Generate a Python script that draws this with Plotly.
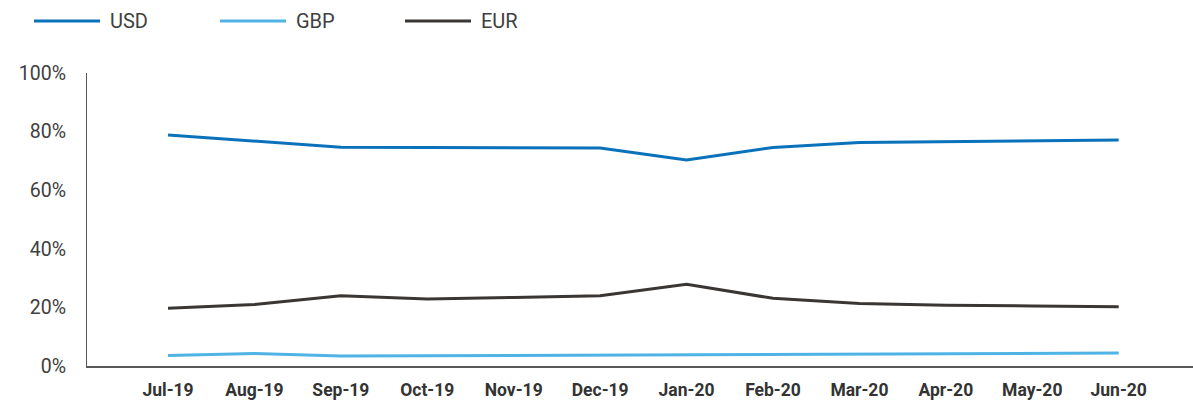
import plotly.graph_objects as go

months = ["Jul-19", "Aug-19", "Sep-19", "Oct-19", "Nov-19", "Dec-19",
          "Jan-20", "Feb-20", "Mar-20", "Apr-20", "May-20", "Jun-20"]
usd = [78.8, 76.8, 74.7, 74.6, 74.5, 74.4, 70.3, 74.6, 76.3, 76.5, 76.8, 77.1]
gbp = [3.6, 4.3, 3.4, 3.5, 3.7, 3.8, 4.0, 4.1, 4.2, 4.3, 4.4, 4.4]
eur = [19.7, 21.0, 24.0, 22.9, 23.4, 24.0, 27.9, 23.1, 21.3, 20.7, 20.5, 20.2]
y_ticks = [0, 20, 40, 60, 80, 100]
y_tick_text = ["0%", "20%", "40%", "60%", "80%", "100%"]

series = [
    ("USD", usd, "#0a72ba"),
    ("GBP", gbp, "#4fb3e6"),
    ("EUR", eur, "#3a3634"),
]

TEXT = "#404040"
FONT = "Roboto, Liberation Sans, Arial, sans-serif"

fig = go.Figure()
x_idx = list(range(len(months)))
for name, vals, color in series:
    fig.add_trace(go.Scatter(
        x=x_idx, y=vals, name=name, mode="lines",
        line=dict(color=color, width=3),
        showlegend=False,
        hovertemplate="%{y:.1f}%<extra>" + name + "</extra>",
    ))

# Legend drawn along the top: line sample followed by the label
W, H = 1193, 402
L, R, T, B = 87, 0, 73, 36
pw, ph = W - L - R, H - T - B
def px_x(p):
    return (p - L) / pw
def px_y(p):
    return (H - B - p) / ph

legend_x = [34, 220, 405]
for (name, vals, color), lx in zip(series, legend_x):
    fig.add_shape(type="line", xref="paper", yref="paper",
                  x0=px_x(lx), x1=px_x(lx + 66), y0=px_y(21), y1=px_y(21),
                  line=dict(color=color, width=3))
    fig.add_annotation(xref="paper", yref="paper", x=px_x(lx + 74), y=px_y(21),
                       text=name, showarrow=False, xanchor="left", yanchor="middle",
                       font=dict(family=FONT, size=20, color=TEXT))

fig.update_layout(
    width=W, height=H,
    margin=dict(l=L, r=R, t=T, b=B),
    paper_bgcolor="white", plot_bgcolor="white",
    showlegend=False,
    xaxis=dict(
        range=[-0.9375, 11.86],
        tickmode="array", tickvals=x_idx, ticktext=months,
        showgrid=False, zeroline=False, automargin=False,
        showline=True, linecolor="#595959", linewidth=1.5,
        ticks="outside", ticklen=7, tickcolor="rgba(0,0,0,0)",
        tickfont=dict(family=FONT, size=17.5, color="#333333", weight="bold"),
    ),
    yaxis=dict(
        range=[0, 100],
        tickmode="array", tickvals=y_ticks, ticktext=y_tick_text,
        showgrid=False, zeroline=False, automargin=False,
        showline=True, linecolor="#595959", linewidth=1.2,
        ticks="outside", ticklen=16, tickcolor="rgba(0,0,0,0)",
        tickfont=dict(family=FONT, size=19.5, color=TEXT),
    ),
)

fig.write_html("out.html")
